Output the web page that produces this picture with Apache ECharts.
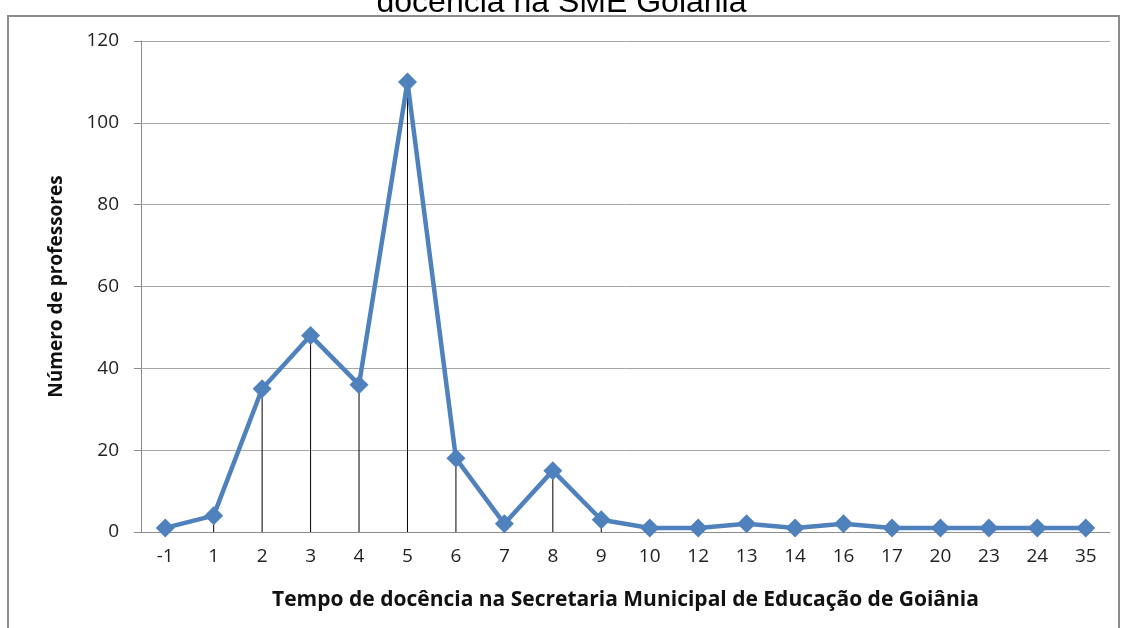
<!DOCTYPE html>
<html>
<head>
<meta charset="utf-8">
<script src="https://cdn.jsdelivr.net/npm/echarts@6/dist/echarts.min.js"></script>
<style>
  html, body { margin: 0; padding: 0; background: #fff; }
  #chart { width: 1123px; height: 628px; }
</style>
</head>
<body>
<div id="chart"></div>
<script>
// Years of teaching at the Goiânia municipal education department
const categories = ['-1', '1', '2', '3', '4', '5', '6', '7', '8', '9', '10', '12', '13', '14', '16', '17', '20', '23', '24', '35'];
const teachers = [1, 4, 35, 48, 36, 110, 18, 2, 15, 3, 1, 1, 2, 1, 2, 1, 1, 1, 1, 1];
const yTicks = { min: 0, max: 120, interval: 20 };

const chart = echarts.init(document.getElementById('chart'));
chart.setOption({
  animation: false,
  backgroundColor: '#fff',
  title: {
    text: 'docência na SME Goiânia',
    left: 'center',
    top: -18,
    textStyle: { fontFamily: 'Liberation Sans', fontSize: 32, fontWeight: 'normal', color: '#000' }
  },
  graphic: [{
    type: 'rect',
    shape: { x: 8, y: 16, width: 1111, height: 640 },
    style: { fill: 'none', stroke: '#8c8c8c', lineWidth: 2 },
    z: -1
  }],
  grid: { left: 141, right: 13, top: 41, bottom: 96 },
  xAxis: {
    type: 'category',
    data: categories,
    boundaryGap: true,
    axisLine: { lineStyle: { color: '#8c8c8c', width: 1 } },
    axisTick: { show: false },
    axisLabel: { fontFamily: 'Open Sans', fontSize: 19, color: '#222', margin: 15 },
    name: 'Tempo de docência na Secretaria Municipal de Educação de Goiânia',
    nameLocation: 'middle',
    nameGap: 58,
    nameTextStyle: { fontFamily: 'Open Sans', fontSize: 21, fontWeight: 'bold', color: '#111' }
  },
  yAxis: {
    type: 'value',
    min: yTicks.min,
    max: yTicks.max,
    interval: yTicks.interval,
    axisLine: { show: true, lineStyle: { color: '#8c8c8c', width: 1 } },
    axisTick: { show: true, length: 7, lineStyle: { color: '#8c8c8c' } },
    axisLabel: { fontFamily: 'Open Sans', fontSize: 19, color: '#222', margin: 22 },
    splitLine: { lineStyle: { color: '#a6a6a6', width: 1 } },
    name: 'Número de professores',
    nameLocation: 'middle',
    nameGap: 75,
    nameTextStyle: { fontFamily: 'Open Sans', fontSize: 19, fontWeight: 'bold', color: '#111' }
  },
  series: [
    {
      // drop lines from each point down to the axis
      type: 'bar',
      data: teachers,
      barWidth: 1,
      itemStyle: { color: '#000' },
      z: 1,
      silent: true
    },
    {
      type: 'line',
      data: teachers,
      symbol: 'diamond',
      symbolSize: 19,
      lineStyle: { color: '#4f81bd', width: 4.5 },
      itemStyle: { color: '#4f81bd' },
      z: 2
    }
  ]
});
</script>
</body>
</html>
